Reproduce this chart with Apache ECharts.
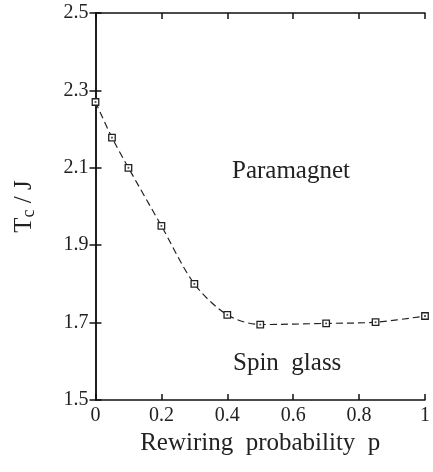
<!DOCTYPE html>
<html>
<head>
<meta charset="utf-8">
<script src="https://cdn.jsdelivr.net/npm/echarts@6/dist/echarts.min.js"></script>
<style>html,body{margin:0;padding:0;background:#fff}#c{width:433px;height:472px}</style>
</head>
<body>
<div id="c"></div>
<script>
const pValues = [0, 0.05, 0.1, 0.2, 0.3, 0.4, 0.5, 0.7, 0.85, 1.0];
const tcValues = [2.27, 2.178, 2.10, 1.95, 1.80, 1.72, 1.695, 1.698, 1.701, 1.717];
const yTicks = [1.5, 1.7, 1.9, 2.1, 2.3, 2.5];
const xTicks = [0, 0.2, 0.4, 0.6, 0.8, 1];
const xLabel = 'Rewiring  probability  p';
const regionLabels = ['Paramagnet', 'Spin  glass'];

const font = 'Liberation Serif';
const pts = pValues.map((p, i) => [p, tcValues[i]]);
const axisLine = { show: true, lineStyle: { color: '#111', width: 1.5 } };
const tick = { show: true, inside: true, length: 6, lineStyle: { color: '#111', width: 1.5 } };

const chart = echarts.init(document.getElementById('c'), null, { renderer: 'canvas' });
chart.setOption({
  animation: false,
  backgroundColor: '#fff',
  grid: { left: 95.5, right: 3.5, top: 13, bottom: 72 },
  xAxis: [
    {
      type: 'value', min: 0, max: 1, position: 'bottom',
      name: xLabel, nameLocation: 'middle', nameGap: 22,
      nameTextStyle: { fontFamily: font, fontSize: 25, color: '#222' },
      axisLine, axisTick: Object.assign({ customValues: xTicks }, tick),
      axisLabel: { customValues: xTicks, fontFamily: font, fontSize: 20, color: '#222', margin: 6,
        formatter: v => String(v) },
      splitLine: { show: false }
    },
    {
      type: 'value', min: 0, max: 1, position: 'top',
      axisLine, axisTick: Object.assign({ customValues: xTicks }, tick),
      axisLabel: { show: false }, splitLine: { show: false }
    }
  ],
  yAxis: [
    {
      type: 'value', min: 1.5, max: 2.5, position: 'left',
      name: 'T{sub|c} / J', nameLocation: 'middle', nameGap: 57,
      nameTextStyle: { fontFamily: font, fontSize: 25, color: '#222',
        rich: { sub: { fontFamily: font, fontSize: 18, color: '#222', verticalAlign: 'bottom', padding: [10, 0, 0, 0] } } },
      axisLine, axisTick: Object.assign({ customValues: yTicks }, tick),
      axisLabel: { customValues: yTicks, fontFamily: font, fontSize: 20, color: '#222', margin: 7,
        formatter: v => v.toFixed(1) },
      splitLine: { show: false }
    },
    {
      type: 'value', min: 1.5, max: 2.5, position: 'right',
      axisLine, axisTick: Object.assign({ customValues: yTicks }, tick),
      axisLabel: { show: false }, splitLine: { show: false }
    }
  ],
  series: [
    {
      type: 'line', data: pts, smooth: 0.3,
      lineStyle: { color: '#222', width: 1.2, type: [7, 4] },
      symbol: 'rect', symbolSize: 6.5,
      itemStyle: { color: '#fff', borderColor: '#222', borderWidth: 1.3 },
      z: 3
    },
    {
      type: 'scatter', data: pts, symbol: 'rect', symbolSize: 1.8,
      itemStyle: { color: '#222' }, z: 4
    }
  ],
  graphic: [
    { type: 'text', left: 232, top: 159, style: { text: regionLabels[0], font: '25px "Liberation Serif"', fill: '#222' } },
    { type: 'text', left: 233, top: 351, style: { text: regionLabels[1], font: '25px "Liberation Serif"', fill: '#222' } }
  ]
});
</script>
</body>
</html>
